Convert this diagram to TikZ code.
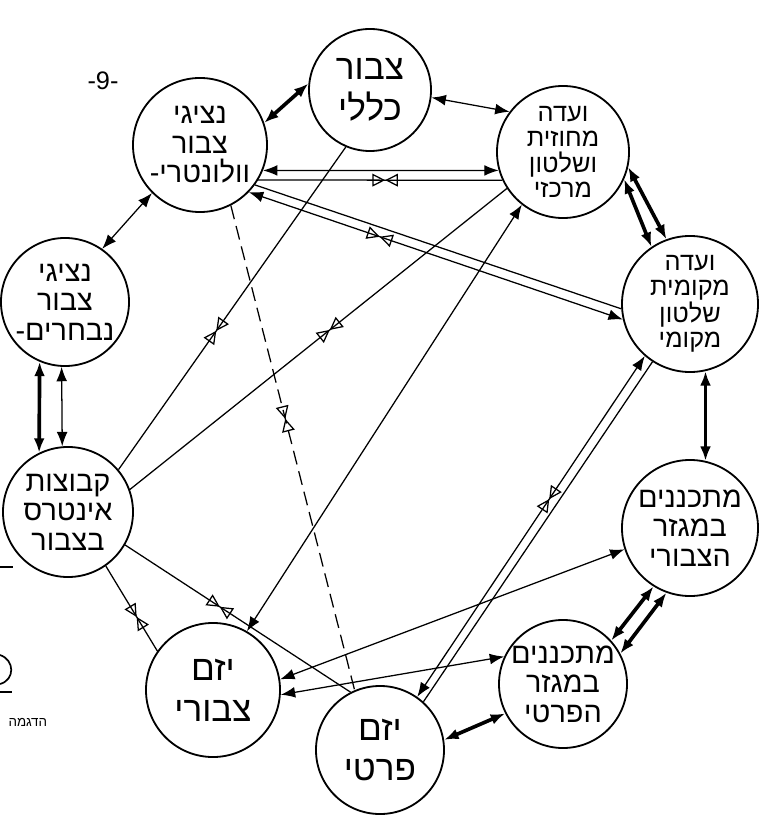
\documentclass[tikz,border=0pt]{standalone}
\usepackage{fontspec}
\usetikzlibrary{arrows.meta, decorations.markings}
\newfontfamily\hebfont[Script=Hebrew]{Liberation Sans}
\TeXXeTstate=1
\newcommand{\rl}[1]{\beginR #1\endR}

\begin{document}
\begin{tikzpicture}[
        x=0.025cm, y=-0.025cm,
        party/.style={circle, draw, line width=1.3pt, minimum size=#1,
                      inner sep=-14pt, align=center},
        party/.default=3.3cm,
        big/.style={font=\hebfont\fontsize{25}{29}\selectfont},
        mid/.style={font=\hebfont\fontsize{20.5}{21}\selectfont},
        small/.style={font=\hebfont\fontsize{18}{18}\selectfont},
        link/.style={line width=0.9pt},
        arrow/.style={link, {Latex[length=3.6mm,width=2.7mm]}-{Latex[length=3.6mm,width=2.7mm]}},
        heavy/.style={arrow, line width=2.6pt},
        bowtie/.style={postaction={decorate}, decoration={markings,
            mark=at position #1 with {\arrow{Triangle[open,length=3.2mm,width=3.2mm]}
                                     \arrowreversed{Triangle[open,length=3.2mm,width=3.2mm]}}}},
        bowtie/.default=0.5,
    ]
        \useasboundingbox (0,0) rectangle (760,819);

        % circles
        \node[party=3.05cm, big] (pub) at (370,90) {\rl{צבור}\\\rl{כללי}};
        \node[party=3.35cm, mid] (vol) at (200,145) {\rl{נציגי}\\\rl{צבור}\\\rl{וולונטרי-}};
        \node[party=3.3cm, small] (dist) at (563,152) {\rl{ועדה}\\\rl{מחוזית}\\\rl{ושלטון}\\\rl{מרכזי}};
        \node[party=3.4cm, small] (loc) at (690,304) {\rl{ועדה}\\\rl{מקומית}\\\rl{שלטון}\\\rl{מקומי}};
        \node[party=3.2cm, mid] (elect) at (65,302) {\rl{נציגי}\\\rl{צבור}\\\rl{נבחרים-}};
        \node[party=3.25cm, mid] (inter) at (68,512) {\rl{קבוצות}\\\rl{אינטרס}\\\rl{בצבור}};
        \node[party=3.4cm, mid] (pubplan) at (690,528) {\rl{מתכננים}\\\rl{במגזר}\\\rl{הצבורי}};
        \node[party=3.35cm, big] (pubdev) at (213,690) {\rl{יזם}\\\rl{צבורי}};
        \node[party=3.2cm, big] (privdev) at (380,750) {\rl{יזם}\\\rl{פרטי}};
        \node[party=3.2cm, mid] (privplan) at (563,684) {\rl{מתכננים}\\\rl{במגזר}\\\rl{הפרטי}};

        \node[font=\hebfont\fontsize{18}{18}\selectfont] (page) at (103,81) {-9-};
        \node[font=\hebfont\fontsize{9.5}{9.5}\selectfont, anchor=east] (demo) at (52,722) {\rl{הדגמה}};

        % neighbours round the ring
        \draw[heavy] (vol.19) -- (pub.174);
        \draw[arrow] (pub.-7) -- (dist.143);
        \draw[heavy] (dist.-24) -- (loc.124);
        \draw[heavy] (dist.-13) -- (loc.110);
        \draw[heavy] (loc.-77) -- (pubplan.77);
        \draw[heavy] (pubplan.238) -- (privplan.42);
        \draw[heavy] (pubplan.250) -- (privplan.28);
        \draw[heavy] (privdev.9) -- (privplan.207);
        \draw[arrow] (elect.55) -- (vol.225);
        \draw[heavy] (elect.-113) -- (inter.116);
        \draw[arrow] (elect.-93) -- (inter.95);
        \draw[link, bowtie=0.6] (inter.-55) -- (pubdev.145);

        % across the ring
        \draw[arrow] (vol.-22) -- (dist.196);
        \draw[link, bowtie=0.52] (vol.-31) -- (dist.205);
        \draw[arrow, bowtie=0.35] (vol.-44) -- (loc.193);
        \draw[link] (vol.-36) -- (loc.184);
        \draw[link, bowtie=0.57] (pub.247) -- (inter.40);
        \draw[link, bowtie=0.47] (dist.213) -- (inter.20);
        \draw[link, dash pattern=on 10pt off 5pt, bowtie=0.44] (vol.-63) -- (privdev.113);
        \draw[arrow] (dist.232) -- (pubdev.60);
        \draw[link, bowtie=0.42] (inter.-30) -- (privdev.117);
        \draw[arrow, bowtie=0.42] (loc.229) -- (privdev.55);
        \draw[link] (loc.237) -- (privdev.48);
        \draw[arrow] (pubplan.198) -- (pubdev.9);
        \draw[arrow] (privplan.155) -- (pubdev.-4);

        % scraps at the left edge
        \draw[line width=1pt] (0,567) -- (13,567);
        \draw[line width=1.2pt] (0,655) .. controls (15,660) and (15,680) .. (0,684);
        \draw[line width=1.2pt] (0,692) -- (12,692);
    \end{tikzpicture}
\end{document}
